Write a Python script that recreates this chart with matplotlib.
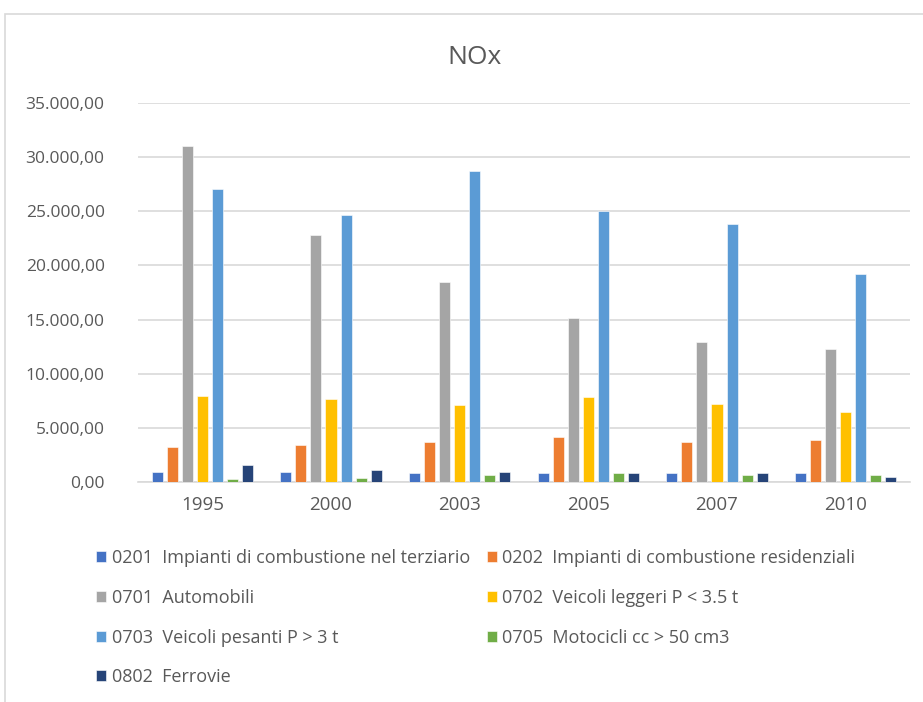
import matplotlib
matplotlib.use("Agg")
import matplotlib.pyplot as plt
import numpy as np
from matplotlib.ticker import FuncFormatter
from matplotlib.patches import Rectangle

years = ["1995", "2000", "2003", "2005", "2007", "2010"]
series_names = [
    "0201  Impianti di combustione nel terziario",
    "0202  Impianti di combustione residenziali",
    "0701  Automobili",
    "0702  Veicoli leggeri P < 3.5 t",
    "0703  Veicoli pesanti P > 3 t",
    "0705  Motocicli cc > 50 cm3",
    "0802  Ferrovie",
]
s0201 = [920, 900, 800, 800, 800, 800]
s0202 = [3230, 3420, 3660, 4150, 3660, 3850]
s0701 = [31000, 22850, 18450, 15150, 12950, 12250]
s0702 = [7940, 7640, 7110, 7850, 7200, 6460]
s0703 = [27050, 24650, 28720, 25000, 23820, 19200]
s0705 = [280, 370, 680, 800, 680, 680]
s0802 = [1570, 1110, 920, 800, 800, 490]
series = [s0201, s0202, s0701, s0702, s0703, s0705, s0802]
colors = ["#4472C4", "#ED7D31", "#A5A5A5", "#FFC000", "#5B9BD5", "#70AD47", "#264478"]

plt.rcParams['font.family'] = ['Open Sans', 'DejaVu Sans']
textc = "#595959"

fig = plt.figure(figsize=(9.23, 7.02), dpi=100)
W, H = 923, 702
ax = fig.add_axes([138 / W, 1 - 482 / H, (910 - 138) / W, (482 - 103) / H])

x = np.arange(len(years))
slot = 0.1166
bw = 0.0855
handles = []
for i, (vals, c) in enumerate(zip(series, colors)):
    off = (i - 3) * slot
    b = ax.bar(x + off, vals, width=bw, color=c, edgecolor='white', linewidth=0.4, zorder=3,
               label=series_names[i])
    handles.append(b)

ax.set_xlim(-0.5, len(years) - 0.5)
ax.set_ylim(0, 35000)
ax.set_yticks(np.arange(0, 35001, 5000))

def fmt(v, pos):
    s = f"{v:,.2f}"
    return s.replace(",", "X").replace(".", ",").replace("X", ".")

ax.yaxis.set_major_formatter(FuncFormatter(fmt))
ax.set_xticks(x)
ax.set_xticklabels(years)
ax.grid(axis='y', color='#D9D9D9', linewidth=1.2, zorder=0)
for s in ['top', 'right', 'left']:
    ax.spines[s].set_visible(False)
ax.spines['bottom'].set_color('#D9D9D9')
ax.spines['bottom'].set_linewidth(1.2)
ax.tick_params(axis='y', length=0, labelsize=12.5, labelcolor=textc, pad=24)
ax.tick_params(axis='x', length=0, labelsize=13.5, labelcolor=textc, pad=10)

fig.text(474 / W, 1 - 57 / H, "NOx", ha='center', va='center', fontsize=19, color=textc)

order = [0, 2, 4, 6, 1, 3, 5]
leg = fig.legend([handles[i] for i in order], [series_names[i] for i in order],
                 ncol=2, loc='upper left', bbox_to_anchor=(80 / W, 1 - 533 / H),
                 frameon=False, fontsize=13, labelcolor=textc,
                 handlelength=0.55, handleheight=0.55, handletextpad=0.3,
                 columnspacing=0.95, labelspacing=1.2)

fig.patches.append(Rectangle((5 / W, -0.1), 1.2, 1 - 14 / H + 0.1, transform=fig.transFigure,
                             fill=False, edgecolor='#D9D9D9', linewidth=1.2))

fig.savefig("out.png", dpi=100, facecolor='white')
